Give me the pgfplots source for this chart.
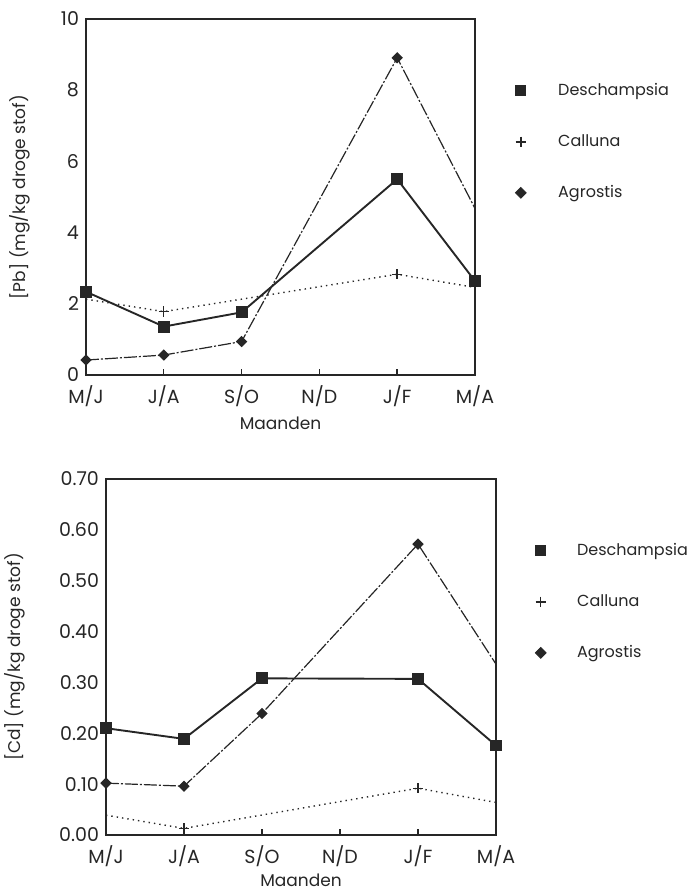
\documentclass[border=0pt]{standalone}
\usepackage{fontspec}
\setmainfont{Poppins}
\usepackage{pgfplots}
\pgfplotsset{compat=1.18}
\definecolor{ink}{RGB}{38,38,38}
\begin{document}
\begin{tikzpicture}
\useasboundingbox (0pt,0pt) rectangle (346.5pt,445.5pt);
\pgfplotsset{
  every axis/.append style={
    scale only axis, height=178pt,
    xmin=0, xmax=5, xtick={0,...,5},
    xticklabels={M/J,J/A,S/O,N/D,J/F,M/A},
    xtick pos=bottom, ytick pos=left,
    tick align=inside, major tick length=3pt,
    ytick style={draw=none},
    axis line style={line width=0.8pt, ink},
    every tick/.style={line width=0.7pt, ink},
    font=\fontsize{8.5}{10}\selectfont\color{ink},
    tick label style={font=\fontsize{9.5}{11}\selectfont\color{ink}},
    xticklabel style={yshift=-2pt},
    /pgf/number format/assume math mode=true,
    xlabel={Maanden},
    clip=false,
    legend style={draw=none, fill=none, inner sep=0pt,
      font=\fontsize{8}{10}\selectfont\color{ink},
      row sep=14pt, column sep=14pt, anchor=west,
      cells={anchor=west}},
    legend cell align=left,
  },
  desch/.style={ink, line width=0.95pt, mark=square*, mark size=2.5pt, mark options={solid, fill=ink}},
  call/.style={ink, line width=0.7pt, dotted, mark=+, mark size=2.6pt, mark options={solid, line width=0.7pt}},
  agro/.style={ink, line width=0.6pt, dash pattern=on 6.5pt off 1pt on 1pt off 1pt, mark=square*, mark size=1.7pt, mark options={solid, fill=ink, rotate=45}},
}
% top: Pb
\begin{axis}[
  at={(43pt,258pt)}, anchor=south west, width=194.5pt,
  ymin=0, ymax=10, ytick={0,2,...,10},
  ylabel={[Pb] (mg/kg droge stof)},
  every axis y label/.style={at={(axis description cs:-0.170,0.5)}, rotate=90, anchor=center},
  every axis x label/.style={at={(axis description cs:0.5,-0.135)}, anchor=center},
  legend style={at={(axis description cs:1.103,0.655)}},
]
\addplot[desch, forget plot] coordinates {(0,2.34) (1,1.36) (2,1.76) (4,5.50) (5,2.64)};
\addplot[call, forget plot, mark indices={2,3}] coordinates {(0,2.13) (1,1.78) (4,2.83) (5,2.46)};
\addplot[agro, forget plot, mark indices={1,2,3,4}] coordinates {(0,0.42) (1,0.56) (2,0.94) (4,8.91) (5,4.68)};
\addlegendimage{only marks, mark=square*, mark size=2.5pt, ink, fill=ink}
\addlegendentry{Deschampsia}
\addlegendimage{only marks, mark=+, mark size=2.6pt, ink, line width=0.7pt}
\addlegendentry{Calluna}
\addlegendimage{only marks, mark=square*, mark size=1.9pt, ink, fill=ink, mark options={rotate=45}}
\addlegendentry{Agrostis}
\end{axis}
% bottom: Cd
\begin{axis}[
  at={(53pt,28pt)}, anchor=south west, width=195pt,
  ymin=0, ymax=0.7, ytick={0,0.1,...,0.7},
  yticklabel style={/pgf/number format/.cd, fixed, fixed zerofill, precision=2},
  ylabel={[Cd] (mg/kg droge stof)},
  every axis y label/.style={at={(axis description cs:-0.233,0.5)}, rotate=90, anchor=center},
  every axis x label/.style={at={(axis description cs:0.5,-0.128)}, anchor=center},
  legend style={at={(axis description cs:1.100,0.655)}, column sep=13.5pt},
]
\addplot[desch, forget plot] coordinates {(0,0.210) (1,0.189) (2,0.308) (4,0.307) (5,0.176)};
\addplot[call, forget plot, mark indices={2,3}] coordinates {(0,0.039) (1,0.013) (4,0.092) (5,0.064)};
\addplot[agro, forget plot, mark indices={1,2,3,4}] coordinates {(0,0.102) (1,0.096) (2,0.239) (4,0.572) (5,0.336)};
\addlegendimage{only marks, mark=square*, mark size=2.5pt, ink, fill=ink}
\addlegendentry{Deschampsia}
\addlegendimage{only marks, mark=+, mark size=2.6pt, ink, line width=0.7pt}
\addlegendentry{Calluna}
\addlegendimage{only marks, mark=square*, mark size=1.9pt, ink, fill=ink, mark options={rotate=45}}
\addlegendentry{Agrostis}
\end{axis}
\end{tikzpicture}
\end{document}
